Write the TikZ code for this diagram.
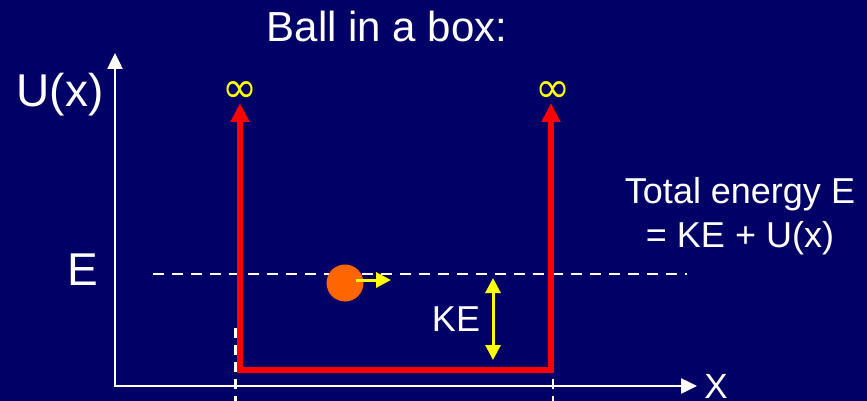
\documentclass[tikz,border=0pt]{standalone}
\usepackage{fontspec}
\setmainfont{Liberation Sans}
\newfontfamily\inffont{DejaVu Sans}
\usepackage{graphicx}
\usetikzlibrary{arrows.meta}
\definecolor{bg}{RGB}{0,0,102}
\definecolor{ballorange}{RGB}{255,102,0}
\definecolor{wallred}{RGB}{255,0,0}
\definecolor{infyellow}{RGB}{255,255,0}
\begin{document}
\begin{tikzpicture}[x=1pt,y=-1pt,
  lbl/.style={text=white,inner sep=0pt,anchor=base},
  axisline/.style={draw=white,line width=2.5pt,line join=miter,
    {Triangle[length=16pt,width=15pt]}-{Triangle[length=16pt,width=15pt]}},
  guide/.style={draw=white,line width=2.8pt,dash pattern=on 11pt off 8pt},
  vguide/.style={draw=white,line width=2.5pt,dash pattern=on 10pt off 7pt},
  wall/.style={draw=wallred,line width=6pt,line join=miter,
    {Triangle[length=19pt,width=18pt]}-{Triangle[length=19pt,width=18pt]}},
  yarrow/.style={draw=infyellow,line width=3pt},
  inf/.style={text=infyellow,inner sep=0pt}]
\fill[bg] (0,0) rectangle (867,401);
\useasboundingbox (0,0) rectangle (867,401);
% coordinates
\coordinate (O) at (115,386);
\coordinate (ytip) at (115,53);
\coordinate (xtip) at (697,386);
\coordinate (lwtop) at (240,103);
\coordinate (lwbot) at (240,370);
\coordinate (rwbot) at (551,370);
\coordinate (rwtop) at (551,103);
\coordinate (eL) at (153,274);
\coordinate (eR) at (687,274);
\coordinate (lgTop) at (235.5,328);
\coordinate (lgBot) at (235.5,405);
\coordinate (rgTop) at (553,328);
\coordinate (rgBot) at (553,405);
\coordinate (keTop) at (493,278);
\coordinate (keBot) at (493,360);
% guides
\draw[guide] (eL) -- (eR);
\draw[vguide] (lgTop) -- (lgBot);
\draw[vguide] (rgTop) -- (rgBot);
% axes
\draw[axisline] (ytip) -- (O) -- (xtip);
% walls
\draw[wall] (lwtop) -- (lwbot) -- (rwbot) -- (rwtop);
% infinity
\node[inf] (inf1) at (240,92) {\resizebox{35pt}{21pt}{\inffont ∞}};
\node[inf] (inf2) at (553,92) {\resizebox{35pt}{21pt}{\inffont ∞}};
% ball
\node[circle,fill=ballorange,minimum size=37pt,inner sep=0pt] (ball) at (345,283) {};
\coordinate (vtip) at (391,280);
\draw[yarrow,-{Triangle[length=15pt,width=15pt]}] ([xshift=11pt,yshift=3pt]ball.center) -- (vtip);
% KE arrow
\draw[yarrow,{Triangle[length=15pt,width=15pt]}-{Triangle[length=15pt,width=15pt]}] (keTop) -- (keBot);
% labels
\node[lbl,font=\fontsize{42}{50}\selectfont] (title) at (387,42) {Ball in a box:};
\node[lbl,font=\fontsize{46}{55}\selectfont] (ulabel) at (60,107) {U(x)};
\node[lbl,font=\fontsize{46}{55}\selectfont] (elabel) at (83,285) {E};
\node[lbl,font=\fontsize{35}{42}\selectfont] (xlabel) at (716,398) {X};
\node[lbl,font=\fontsize{36}{44}\selectfont] (tot1) at (740,203) {Total energy E};
\node[lbl,font=\fontsize{36}{44}\selectfont] (tot2) at (740,247) {= KE + U(x)};
\node[lbl,font=\fontsize{36}{44}\selectfont] (ke) at (456,331) {KE};
\end{tikzpicture}
\end{document}
